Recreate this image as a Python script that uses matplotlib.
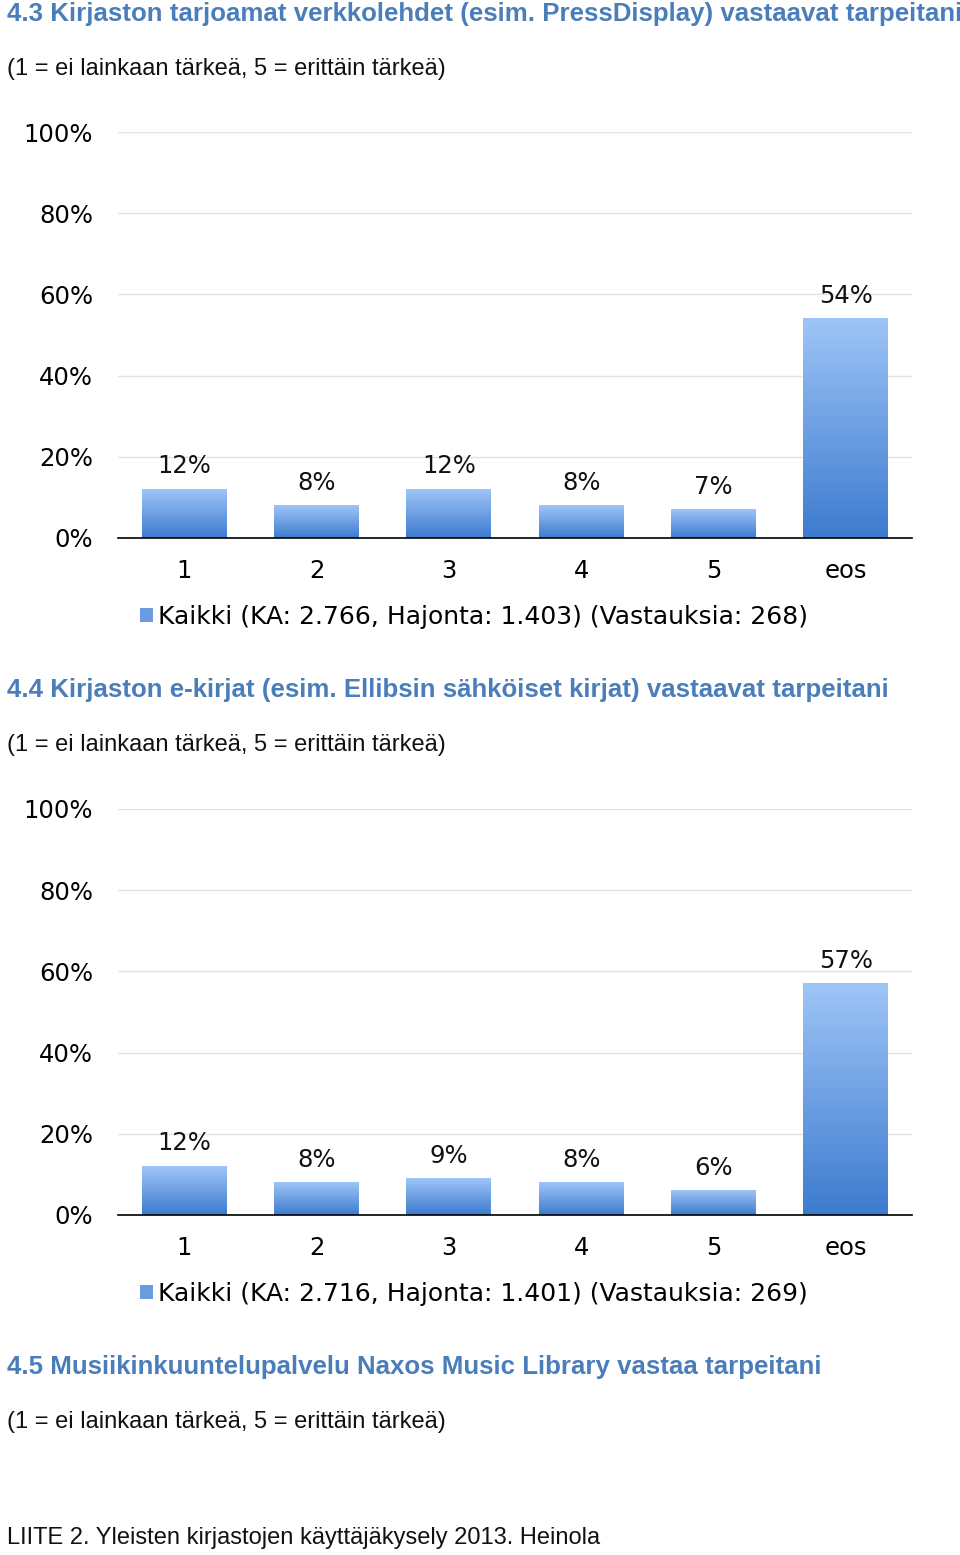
import numpy as np
import matplotlib.pyplot as plt
from matplotlib.colors import LinearSegmentedColormap
from matplotlib.patches import Rectangle

# data
CATEGORIES = ["1", "2", "3", "4", "5", "eos"]
VALUES_43 = [12, 8, 12, 8, 7, 54]
VALUES_44 = [12, 8, 9, 8, 6, 57]
YTICKS = [0, 20, 40, 60, 80, 100]
LEGEND_43 = "Kaikki (KA: 2.766, Hajonta: 1.403) (Vastauksia: 268)"
LEGEND_44 = "Kaikki (KA: 2.716, Hajonta: 1.401) (Vastauksia: 269)"
TITLE_43 = "4.3 Kirjaston tarjoamat verkkolehdet (esim. PressDisplay) vastaavat tarpeitani"
TITLE_44 = "4.4 Kirjaston e-kirjat (esim. Ellibsin sähköiset kirjat) vastaavat tarpeitani"
TITLE_45 = "4.5 Musiikinkuuntelupalvelu Naxos Music Library vastaa tarpeitani"
SUBTITLE = "(1 = ei lainkaan tärkeä, 5 = erittäin tärkeä)"
FOOTER = "LIITE 2. Yleisten kirjastojen käyttäjäkysely 2013. Heinola"

BLUE_TITLE = "#4a7ebb"
LIGHT = "#9ec5f7"
DARK = "#3d7bcf"
MID = "#6a9be0"
GRID = "#dde4ea"
bar_cmap = LinearSegmentedColormap.from_list("bar", [LIGHT, DARK])

W, H = 960, 1555
fig = plt.figure(figsize=(W / 100, H / 100), dpi=100)
CHART_FONT = "DejaVu Sans"
TEXT_FONT = "Liberation Sans"


def fy(y_px):
    return 1 - y_px / H


def draw_chart(values, legend_text, top_px, bottom_px, legend_y):
    ax = fig.add_axes([118 / W, fy(bottom_px), (912 - 118) / W, (bottom_px - top_px) / H])
    x = np.arange(len(CATEGORIES))
    bars = ax.bar(x, values, width=0.64, color="none", zorder=2)
    grad = np.linspace(0, 1, 256).reshape(-1, 1)
    for b, v in zip(bars, values):
        x0 = b.get_x()
        ax.imshow(grad, cmap=bar_cmap, origin="upper", aspect="auto", zorder=2,
                  extent=[x0, x0 + b.get_width(), 0, b.get_height()])
        ax.annotate(f"{v}%", (b.get_x() + b.get_width() / 2, b.get_height()),
                    xytext=(0, 16.5), textcoords="offset points", ha="center", va="center",
                    fontsize=17.5, family=CHART_FONT, color="#111111")
    ax.set_xlim(-0.5, len(CATEGORIES) - 0.5)
    ax.set_ylim(0, 100)
    ax.set_yticks(YTICKS)
    ax.set_yticklabels([f"{t}%" for t in YTICKS], fontsize=17.5, family=CHART_FONT)
    ax.set_xticks(x)
    ax.set_xticklabels(CATEGORIES, fontsize=17.5, family=CHART_FONT)
    ax.tick_params(axis="y", length=0, pad=18)
    ax.tick_params(axis="x", length=0, pad=15)
    ax.yaxis.grid(True, color=GRID, linewidth=1.0, zorder=0)
    ax.set_axisbelow(True)
    for s in ["top", "right", "left"]:
        ax.spines[s].set_visible(False)
    ax.spines["bottom"].set_linewidth(1.2)
    ax.spines["bottom"].set_zorder(3)
    handle = Rectangle((0, 0), 1, 1, facecolor=MID, edgecolor="none")
    ax.legend([handle], [legend_text], loc="center", bbox_to_anchor=(474 / W, fy(legend_y)),
              bbox_transform=fig.transFigure, frameon=False, handlelength=0.5,
              handleheight=0.5, handletextpad=0.2, borderpad=0,
              prop={"family": CHART_FONT, "size": 18})
    return ax


def heading(text, y_px):
    fig.text(7 / W, fy(y_px), text, ha="left", va="center", fontsize=18.6,
             fontweight="bold", color=BLUE_TITLE, family=TEXT_FONT)


def plain(text, y_px):
    fig.text(7 / W, fy(y_px), text, ha="left", va="center", fontsize=17,
             color="#111111", family=TEXT_FONT)


heading(TITLE_43, 14)
plain(SUBTITLE, 69)
draw_chart(VALUES_43, LEGEND_43, 132, 538, 617)

heading(TITLE_44, 690)
plain(SUBTITLE, 745)
draw_chart(VALUES_44, LEGEND_44, 809, 1215, 1294)

heading(TITLE_45, 1367)
plain(SUBTITLE, 1422)
plain(FOOTER, 1538)

fig.savefig("out.png", dpi=100)
